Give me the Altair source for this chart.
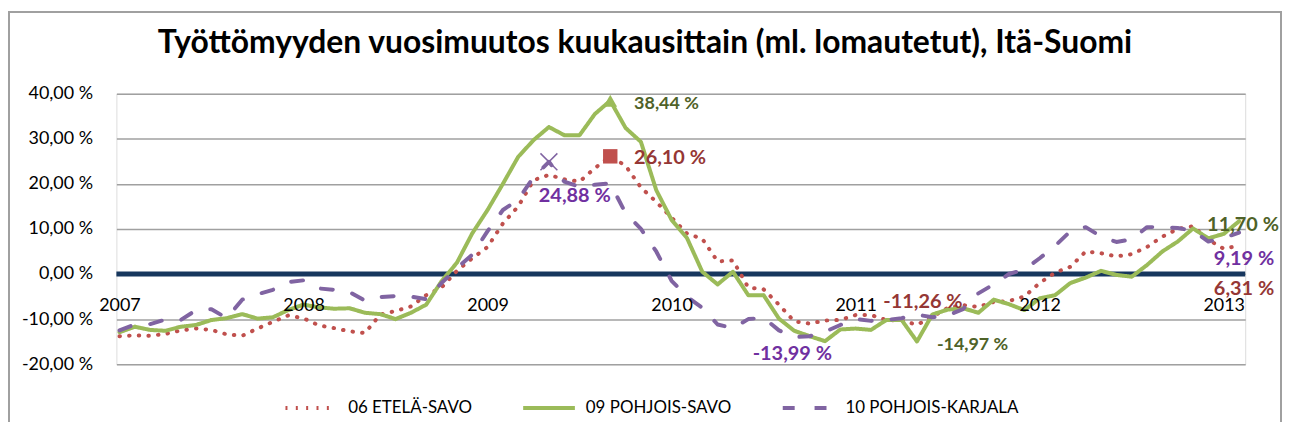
import json
import altair as alt
import pandas as pd

# ---------------- data ----------------
months = list(range(74))  # Jan 2007 .. Feb 2013
series_names = ["06 ETELÄ-SAVO", "09 POHJOIS-SAVO", "10 POHJOIS-KARJALA"]

etela_savo = [
    -13.8, -13.6, -13.7, -13.3, -12.5, -12.1, -12.4, -13.4, -13.7, -12.1, -10.6, -9.2,
    -9.8, -11.4, -12.0, -12.7, -13.1, -9.0, -8.2, -7.2, -4.7, -3.0, 0.7, 3.5,
    6.0, 11.2, 15.0, 20.8, 22.0, 21.0, 20.5, 23.5, 26.10, 24.0, 19.2, 16.0,
    12.5, 9.0, 7.8, 2.8, 3.0, -3.0, -3.4, -6.8, -10.5, -11.0, -10.3, -10.2,
    -9.1, -9.1, -10.2, -10.3, -11.26, -9.5, -7.5, -6.9, -7.3, -6.2, -6.0, -5.0,
    -2.0, 0.3, 1.6, 5.0, 4.6, 3.9, 4.4, 6.0, 8.3, 10.0, 10.6, 7.6,
    5.6, 6.31,
]
pohjois_savo = [
    -12.9, -11.7, -12.4, -12.6, -11.7, -11.3, -10.2, -9.8, -8.9, -9.9, -9.6, -8.0,
    -6.8, -7.4, -7.7, -7.6, -8.6, -8.9, -10.0, -8.6, -6.8, -1.6, 2.5, 9.0,
    14.2, 20.0, 26.0, 29.7, 32.6, 30.8, 30.8, 35.5, 38.44, 32.4, 29.3, 18.6,
    12.0, 8.0, 0.5, -2.3, 0.5, -4.7, -4.7, -9.9, -12.6, -13.8, -14.9, -12.3,
    -12.1, -12.4, -10.2, -10.2, -14.97, -9.0, -7.9, -7.6, -8.6, -5.7, -6.7, -8.0,
    -5.4, -4.7, -2.0, -0.8, 0.7, -0.2, -0.6, 2.0, 5.0, 7.2, 10.1, 7.9,
    8.9, 11.70,
]
pohjois_karjala = [
    -12.5, -11.2, -11.1, -10.1, -10.2, -8.0, -7.8, -9.8, -5.7, -4.5, -3.5, -1.8,
    -1.4, -3.2, -3.5, -4.0, -5.9, -5.1, -4.9, -5.0, -5.6, -2.0, 1.3, 4.3,
    9.5, 14.2, 16.5, 21.5, 24.88, 20.5, 19.3, 19.8, 20.1, 13.5, 10.0, 5.0,
    -1.5, -5.0, -7.5, -11.2, -12.0, -10.0, -9.7, -12.5, -13.99, -13.8, -12.8, -11.3,
    -10.0, -10.4, -10.2, -9.8, -9.0, -9.6, -9.2, -7.8, -4.3, -2.3, 0.0, 1.0,
    3.5, 6.2, 9.5, 10.4, 8.3, 7.1, 7.7, 10.4, 10.4, 10.2, 9.6, 7.2,
    8.0, 9.19,
]
year_ticks = [0, 12, 24, 36, 48, 60, 72]
year_labels = ["2007", "2008", "2009", "2010", "2011", "2012", "2013"]
y_ticks = [-20, -10, 0, 10, 20, 30, 40]
title_text = "Työttömyyden vuosimuutos kuukausittain (ml. lomautetut), Itä-Suomi"

values = dict(zip(series_names, [etela_savo, pohjois_savo, pohjois_karjala]))
rows = [{"m": m, "v": v, "s": name}
        for name in series_names for m, v in zip(months, values[name])]
df = pd.DataFrame(rows)

# ---------------- styles ----------------
FONT = "Lato"
line_colors = ["#C0504D", "#9BBB59", "#8064A2"]
label_colors = {series_names[0]: "#953735", series_names[1]: "#4F6228", series_names[2]: "#7030A0"}
line_dashes = [[0.5, 9.2], [1, 0], [12, 20]]
legend_dashes = [[2, 8.4], [1, 0], [12, 20]]

W, H = 1135, 272

year_expr = json.dumps(dict(zip([str(t) for t in year_ticks], year_labels)))
x_enc = alt.X(
    "m:Q",
    scale=alt.Scale(domain=[-0.2, 73.4], nice=False, zero=False),
    axis=alt.Axis(values=year_ticks, labelExpr=f"{year_expr}[toString(datum.value)]",
                  title=None, grid=False, domain=False, ticks=False,
                  offset=-91, labelPadding=23, labelFont=FONT, labelFontSize=18,
                  labelColor="#000000", labelBaseline="top", zindex=1),
)
y_enc = alt.Y(
    "v:Q",
    scale=alt.Scale(domain=[-20, 40], nice=False, zero=False),
    axis=alt.Axis(values=y_ticks, title=None, domain=False, ticks=False,
                  labelExpr="(datum.value < 0 ? '-' : '') + replace(format(abs(datum.value), '.2f'), '.', ',') + ' %'",
                  labelPadding=24, labelFont=FONT, labelFontSize=18, labelColor="#000000",
                  grid=True, gridColor="#A0A0A0", gridWidth=1.5),
)

legend = alt.Legend(orient="none", legendX=168, legendY=288, direction="horizontal",
                    title=None, labelFont=FONT, labelFontSize=17, labelColor="#000000",
                    labelLimit=400, symbolType="stroke", symbolSize=2704, symbolStrokeWidth=4,
                    columnPadding=43, labelOffset=9, padding=0)

frame = alt.Chart(alt.Data(values=[{}])).mark_rect(
    fill="white", fillOpacity=0, stroke="#A0A0A0", strokeWidth=2
).encode(x=alt.value(-108), x2=alt.value(1171), y=alt.value(-82), y2=alt.value(360))

zero = alt.Chart(pd.DataFrame({"v": [0]})).mark_rule(color="#17375E", strokeWidth=5).encode(y=y_enc)

lines = alt.Chart(df).mark_line(strokeWidth=4, strokeCap="round", strokeJoin="round").encode(
    x=x_enc, y=y_enc,
    color=alt.Color("s:N", scale=alt.Scale(domain=series_names, range=line_colors), legend=None),
    strokeDash=alt.StrokeDash("s:N", scale=alt.Scale(domain=series_names, range=line_dashes), legend=None),
)

# legend-only layer (no rows drawn), so the legend gets dash patterns suited to its symbols
legend_layer = alt.Chart(alt.Data(values=[])).mark_line(strokeWidth=4).encode(
    x=x_enc, y=y_enc,
    color=alt.Color("s:N", scale=alt.Scale(domain=series_names, range=line_colors), legend=legend),
    strokeDash=alt.StrokeDash("s:N", scale=alt.Scale(domain=series_names, range=legend_dashes), legend=legend),
)


def pt(name, m):
    return pd.DataFrame([{"m": m, "v": values[name][m], "s": name}])


tri = alt.Chart(pt(series_names[1], 32)).mark_point(
    shape="triangle-up", filled=True, size=190, color=line_colors[1], opacity=1
).encode(x=x_enc, y=y_enc)
sq = alt.Chart(pt(series_names[0], 32)).mark_point(
    shape="square", filled=True, size=210, color=line_colors[0], opacity=1
).encode(x=x_enc, y=y_enc)
xm = alt.Chart(pt(series_names[2], 28)).mark_point(
    shape="M-1,-1L1,1M-1,1L1,-1", filled=False, size=289, color=line_colors[2],
    strokeWidth=1.5, opacity=1
).encode(x=x_enc, y=y_enc)


def fmt(v):
    return ("-" if v < 0 else "") + f"{abs(v):.2f}".replace(".", ",") + " %"


label_specs = [
    # series index, month, align, dx, dy, size
    (1, 32, "left", 24, 3, 18),
    (0, 32, "left", 24, 2, 20),
    (2, 28, "center", 26, 34, 20),
    (2, 44, "center", -2, 17, 20),
    (0, 52, "center", 6, -23, 20),
    (1, 52, "left", 20, 4, 18),
    (1, 73, "center", 4, 4, 20),
    (2, 73, "center", 5, 27, 20),
    (0, 73, "center", 5, 44, 20),
]
labels = []
for si, m, align, dx, dy, size in label_specs:
    name = series_names[si]
    d = pt(name, m)
    d["t"] = fmt(values[name][m])
    labels.append(
        alt.Chart(d).mark_text(align=align, baseline="middle", dx=dx, dy=dy, font=FONT,
                               fontSize=size, fontWeight="bold", color=label_colors[name])
        .encode(x=x_enc, y=y_enc, text="t:N")
    )

chart = alt.layer(frame, zero, lines, legend_layer, tri, sq, xm, *labels).resolve_scale(
    color="independent", strokeDash="independent"
).properties(
    width=W, height=H,
    title=alt.TitleParams(title_text, font=FONT, fontSize=32, fontWeight="bold", color="#000000",
                          anchor="middle", frame="group", dx=-36, offset=-74, baseline="alphabetic"),
    autosize=alt.AutoSizeParams(type="none"),
    padding={"left": 109, "top": 85, "right": 37, "bottom": 57},
).configure_view(stroke=None).configure(font=FONT, background="white")

chart.save("out.html", embed_options={"renderer": "svg", "actions": False})
